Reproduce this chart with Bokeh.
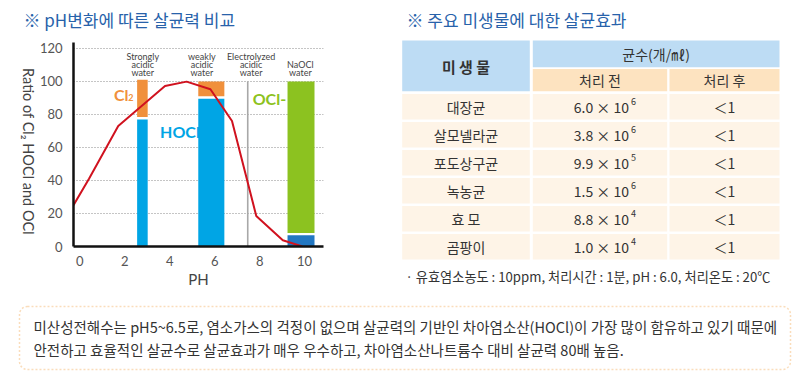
import math
from bokeh.plotting import figure
from bokeh.models import Range1d, FixedTicker, Label, BoxAnnotation
from bokeh.layouts import row, column
from bokeh.embed import file_html
from bokeh.resources import INLINE
from bokeh.core.properties import value

# ---------------- chart data ----------------
ph_ticks = [0, 2, 4, 6, 8, 10]
ratio_ticks = [0, 20, 40, 60, 80, 100, 120]
curve_ph = [-0.28, 0.41, 1.71, 3.79, 4.75, 5.81, 6.77, 7.85, 9.03, 9.9]
curve_ratio = [25, 41, 73, 97.3, 99.9, 95.3, 76, 18.5, 3.8, 0]
bar_ph = [2.785, 5.85, 9.84]
bar_width = [0.47, 1.16, 1.2]
hocl = [77, 89.5, 6.8]
cl2 = [22.5, 9, 0]
ocl = [0, 0, 91.8]
electrolyzed_ph = 7.47
water_labels = [["Strongly", "acidic", "water"], ["weakly", "acidic", "water"],
                ["Electrolyzed", "acidic", "water"], ["NaOCl", "water"]]
water_label_ph = [2.80, 5.43, 7.62, 9.81]
y_label = "Ratio of Cl\u2082 HOCl and OCl"
x_label = "PH"

# ---------------- table data ----------------
microbes = ["대장균", "살모넬라균", "포도상구균", "녹농균", "효 모", "곰팡이"]
mantissa = ["6.0", "3.8", "9.9", "1.5", "8.8", "1.0"]
exponent = ["6", "6", "5", "6", "4", "4"]
after = ["＜1", "＜1", "＜1", "＜1", "＜1", "＜1"]
header_main = "미 생 물"
header_count = "균수(개/㎖)"
header_before = "처리 전"
header_after = "처리 후"
footnote = "· 유효염소농도 : 10ppm, 처리시간 : 1분, pH : 6.0, 처리온도 : 20℃"

title_left = "※ pH변화에 따른 살균력 비교"
title_right = "※ 주요 미생물에 대한 살균효과"
note_lines = ["미산성전해수는 pH5~6.5로, 염소가스의 걱정이 없으며 살균력의 기반인 차아염소산(HOCl)이 가장 많이 함유하고 있기 때문에",
              "안전하고 효율적인 살균수로 살균효과가 매우 우수하고, 차아염소산나트륨수 대비 살균력 80배 높음."]

KR = "Noto Sans CJK KR"
LAT = "Lato"
BLUE_T = "#2862aa"
TXT = "#333333"


def noalign(fig):
    try:
        fig.frame_align = False
    except Exception:
        pass


def plain(w, h, x0, x1, y0, y1):
    f = figure(width=w, height=h, x_range=Range1d(x0, x1), y_range=Range1d(y1, y0),
               output_backend="svg", toolbar_location=None, min_border=0,
               x_axis_type=None, y_axis_type=None)
    f.outline_line_color = None
    noalign(f)
    return f


# ---------------- titles strip ----------------
tt = plain(802, 34, 0, 802, 0, 34)
tt.text(x=[23, 406], y=[19, 19], text=[title_left, title_right], text_font=value(KR), text_font_size="17px",
        text_color=BLUE_T, text_align="left", text_baseline="middle")

# ---------------- y label strip ----------------
yl = plain(36, 256, 0, 36, 34, 290)
yl.text(x=[27.5], y=[151], text=[y_label], text_font=value(LAT), text_font_size="14.5px",
        text_color="#444444", text_align="center", text_baseline="middle", angle=-math.pi / 2)

# ---------------- chart ----------------
p = figure(width=354, height=256, x_range=Range1d(-0.28, 10.84), y_range=Range1d(0, 123.6),
           output_backend="svg", toolbar_location=None,
           min_border_left=35, min_border_right=67, min_border_top=8, min_border_bottom=41)
noalign(p)
p.outline_line_color = None
p.xgrid.visible = False
p.ygrid.ticker = FixedTicker(ticks=ratio_ticks)
p.ygrid.grid_line_dash = "1 2"
p.ygrid.grid_line_color = "#8a8a8a"
p.ygrid.grid_line_width = 1
p.xaxis.ticker = FixedTicker(ticks=ph_ticks)
p.yaxis.ticker = FixedTicker(ticks=ratio_ticks)
for ax in (p.xaxis, p.yaxis):
    ax.axis_line_color = "#111111"
    ax.axis_line_width = 2.5
    ax.major_tick_line_color = None
    ax.minor_tick_line_color = None
    ax.major_label_text_font = LAT
    ax.major_label_text_font_size = "13px"
    ax.major_label_text_color = "#555555"
    ax.axis_label_text_font = LAT
    ax.axis_label_text_font_size = "15px"
    ax.axis_label_text_font_style = "normal"
    ax.axis_label_text_color = "#444444"
p.xaxis.major_label_standoff = 3
p.yaxis.major_label_standoff = 5
p.xaxis.axis_label = x_label
p.xaxis.axis_label_standoff = 1

# bars
bottom_cl2 = [h + 1.5 if c > 0 else 0 for h, c in zip(hocl, cl2)]
top_cl2 = [b + c for b, c in zip(bottom_cl2, cl2)]
bottom_ocl = [h + 1.4 if o > 0 else 0 for h, o in zip(hocl, ocl)]
top_ocl = [b + o for b, o in zip(bottom_ocl, ocl)]
hocl_colors = ["#00a5e5", "#00a5e5", "#2277c2"]
p.vbar(x=bar_ph, width=bar_width, bottom=0, top=hocl, fill_color=hocl_colors, line_color=None)
p.vbar(x=bar_ph[:2], width=bar_width[:2], bottom=bottom_cl2[:2], top=top_cl2[:2], fill_color="#f0903c", line_color=None)
p.vbar(x=bar_ph[2:], width=bar_width[2:], bottom=bottom_ocl[2:], top=top_ocl[2:], fill_color="#8cc220", line_color=None)
p.segment(x0=[electrolyzed_ph], y0=[0], x1=[electrolyzed_ph], y1=[100], line_color="#a8a8a8", line_width=1.6)

p.line(curve_ph, curve_ratio, line_color="#d0121f", line_width=2)

for lines, xph in zip(water_labels, water_label_ph):
    ys = [115.4, 110.4, 105.3] if len(lines) == 3 else [110.4, 105.3]
    for t, yy in zip(lines, ys):
        p.add_layout(Label(x=xph, y=yy, text=t, text_font=LAT, text_font_size="9px", text_color="#444444",
                           text_align="center", text_baseline="middle"))

p.add_layout(Label(x=1.52, y=92.2, text="Cl", text_font=LAT, text_font_style="bold", text_font_size="16px",
                   text_color="#f0903c", text_align="left", text_baseline="middle"))
p.add_layout(Label(x=2.15, y=90.2, text="2", text_font=LAT, text_font_style="bold", text_font_size="9px",
                   text_color="#f0903c", text_align="left", text_baseline="middle"))
p.add_layout(Label(x=3.57, y=69.7, text="HOCl", text_font=LAT, text_font_style="bold", text_font_size="16px",
                   text_color="#00a5e5", text_align="left", text_baseline="middle"))
p.add_layout(Label(x=7.69, y=89.4, text="OCl-", text_font=LAT, text_font_style="bold", text_font_size="16px",
                   text_color="#8cc220", text_align="left", text_baseline="middle"))

# ---------------- table ----------------
t = plain(412, 256, 390, 802, 34, 290)
col_l = [401.7, 532.3, 669]
col_r = [529.3, 666.7, 779]
t.quad(left=[col_l[0], col_l[1]], right=[col_r[0], col_r[2]], top=[40, 40], bottom=[90.7, 66.7],
       fill_color="#bddcf4", line_color=None)
t.quad(left=[col_l[1], col_l[2]], right=[col_r[1], col_r[2]], top=[68.5, 68.5], bottom=[90.7, 90.7],
       fill_color="#fde3c0", line_color=None)
t.text(x=[(col_l[0] + col_r[0]) / 2], y=[65.5], text=[header_main], text_font=value(KR), text_font_size="15px",
       text_font_style="bold", text_color=TXT, text_align="center", text_baseline="middle")
t.text(x=[(col_l[1] + col_r[2]) / 2], y=[53.5], text=[header_count], text_font=value(KR), text_font_size="14px",
       text_color=TXT, text_align="center", text_baseline="middle")
t.text(x=[(col_l[1] + col_r[1]) / 2, (col_l[2] + col_r[2]) / 2], y=[79.5, 79.5], text=[header_before, header_after],
       text_font=value(KR), text_font_size="14px", text_color=TXT, text_align="center", text_baseline="middle")

n = len(microbes)
row_top = [93.5 + 28 * i for i in range(n)]
row_bot = [r + 25.5 for r in row_top]
row_mid = [r + 12.8 for r in row_top]
for c in range(3):
    t.quad(left=[col_l[c]] * n, right=[col_r[c]] * n, top=row_top, bottom=row_bot,
           fill_color="#fef4e7", line_color=None)
t.text(x=[(col_l[0] + col_r[0]) / 2] * n, y=row_mid, text=microbes, text_font=value(KR), text_font_size="14px",
       text_color=TXT, text_align="center", text_baseline="middle")
base = [m + " × 10" for m in mantissa]
t.text(x=[628.5] * n, y=row_mid, text=base, text_font=value(KR), text_font_size="14px",
       text_color=TXT, text_align="right", text_baseline="middle")
t.text(x=[630.5] * n, y=[m - 5 for m in row_mid], text=exponent, text_font=value(KR), text_font_size="9px",
       text_color=TXT, text_align="left", text_baseline="middle")
t.text(x=[(col_l[2] + col_r[2]) / 2] * n, y=row_mid, text=after, text_font=value(KR), text_font_size="14px",
       text_color=TXT, text_align="center", text_baseline="middle")
t.text(x=[405], y=[276], text=[footnote], text_font=value(KR), text_font_size="13.2px",
       text_color=TXT, text_align="left", text_baseline="middle")

# ---------------- note box ----------------
b = plain(802, 92, 0, 802, 290, 382)
b.add_layout(BoxAnnotation(left=19, right=790, top=306, bottom=369, fill_color=None, fill_alpha=0,
                           line_color="#f0901e", line_dash="2 2", line_width=1.5, border_radius=8))
b.text(x=[33, 33], y=[326, 349], text=note_lines, text_font=value(KR), text_font_size="14.5px",
       text_color=TXT, text_align="left", text_baseline="middle")

layout = column(tt, row(yl, p, t), b)
open("out.html", "w").write(file_html(layout, INLINE))
